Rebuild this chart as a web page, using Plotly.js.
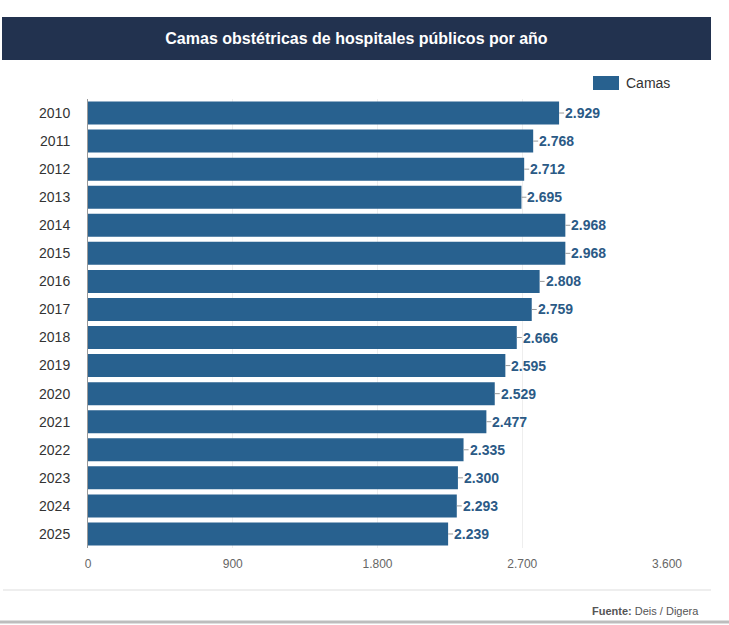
<!DOCTYPE html>
<html>
<head>
<meta charset="utf-8">
<script src="https://cdn.plot.ly/plotly-3.0.1.min.js"></script>
<style>
  html, body { margin: 0; padding: 0; background: #ffffff; }
  #chart { width: 729px; height: 625px; }
</style>
</head>
<body>
<div id="chart"></div>
<script>
// Obstetric beds in public hospitals, per year
const years = ['2010', '2011', '2012', '2013', '2014', '2015', '2016', '2017',
               '2018', '2019', '2020', '2021', '2022', '2023', '2024', '2025'];
const camas = [2929, 2768, 2712, 2695, 2968, 2968, 2808, 2759,
               2666, 2595, 2529, 2477, 2335, 2300, 2293, 2239];
const xTicks = [0, 900, 1800, 2700, 3600];
const seriesName = 'Camas';
const chartTitle = 'Camas obstétricas de hospitales públicos por año';
const sourceNote = '<b>Fuente:</b> Deis / Digera';

const barColor = '#28618f';
const labelColor = '#2b5a86';
const FONT = 'Liberation Sans, Arial, sans-serif';

// Spanish number style: dot as thousands separator
function fmt(v) {
  return String(v).replace(/\B(?=(\d{3})+(?!\d))/g, '.');
}

const trace = {
  type: 'bar',
  orientation: 'h',
  name: seriesName,
  y: years,
  x: camas,
  marker: { color: barColor },
  hoverinfo: 'x+y',
  showlegend: false
};

// Value labels with a short leader line from the bar end
// (category positions given by index so they stay on the year rows)
const valueLabels = camas.map((v, i) => ({
  x: v, y: i, xref: 'x', yref: 'y',
  text: fmt(v),
  showarrow: true, arrowhead: 0, arrowwidth: 1, arrowcolor: '#9a9a9a',
  ax: 5, ay: 0, xanchor: 'left', yanchor: 'middle',
  font: { family: FONT, size: 14, color: labelColor, weight: 'bold' },
  borderpad: 0
}));

const layout = {
  width: 729, height: 625,
  margin: { l: 88, r: 62, t: 99, b: 77 },
  paper_bgcolor: '#ffffff', plot_bgcolor: '#ffffff',
  separators: ',.',
  font: { family: FONT },
  bargap: 0.18,
  title: {
    text: '<b>' + chartTitle + '</b>',
    font: { family: FONT, size: 16, color: '#ffffff' },
    x: 0.489, xref: 'container', xanchor: 'center',
    y: 1 - 38 / 625, yref: 'container', yanchor: 'middle'
  },
  xaxis: {
    range: [0, 3600],
    tickvals: xTicks,
    tickformat: ',d',
    tickfont: { family: FONT, size: 12, color: '#666666' },
    showgrid: true, gridcolor: '#eeeeee', gridwidth: 1,
    zeroline: false, showline: false,
    ticks: '', ticklen: 0, ticklabelstandoff: 7, fixedrange: true
  },
  yaxis: {
    type: 'category',
    categoryorder: 'array', categoryarray: years,
    range: [years.length - 0.5, -0.5],
    autorange: false,
    tickfont: { family: FONT, size: 14, color: '#333333' },
    showgrid: false, zeroline: false,
    showline: true, linecolor: '#999999', linewidth: 1,
    ticks: '', ticklabelstandoff: 14, fixedrange: true
  },
  shapes: [
    // title banner
    { type: 'rect', xref: 'paper', yref: 'paper', layer: 'below',
      x0: (2 - 88) / 579, x1: (711 - 88) / 579,
      y0: (548 - 60) / 449, y1: (548 - 17) / 449,
      fillcolor: '#22324f', line: { width: 0 } },
    // legend swatch
    { type: 'rect', xref: 'paper', yref: 'paper',
      x0: (593 - 88) / 579, x1: (619 - 88) / 579,
      y0: (548 - 90) / 449, y1: (548 - 76) / 449,
      fillcolor: barColor, line: { width: 0 } },
    // separator above the source note
    { type: 'line', xref: 'paper', yref: 'paper',
      x0: (3 - 88) / 579, x1: (711 - 88) / 579,
      y0: (548 - 590) / 449, y1: (548 - 590) / 449,
      line: { color: '#eeeeee', width: 2 } },
    // bottom border
    { type: 'line', xref: 'paper', yref: 'paper',
      x0: (0 - 88) / 579, x1: (729 - 88) / 579,
      y0: (548 - 622) / 449, y1: (548 - 622) / 449,
      line: { color: '#bdbdbd', width: 3 } }
  ],
  annotations: valueLabels.concat([
    { xref: 'paper', yref: 'paper', showarrow: false,
      x: (624 - 88) / 579, y: (548 - 83) / 449, xanchor: 'left', yanchor: 'middle',
      text: seriesName, font: { family: FONT, size: 14, color: '#333333' } },
    { xref: 'paper', yref: 'paper', showarrow: false,
      x: (701 - 88) / 579, y: (548 - 611) / 449, xanchor: 'right', yanchor: 'middle',
      text: sourceNote, font: { family: FONT, size: 11, color: '#555555' } }
  ])
};

Plotly.newPlot('chart', [trace], layout, { displayModeBar: false });
</script>
</body>
</html>
